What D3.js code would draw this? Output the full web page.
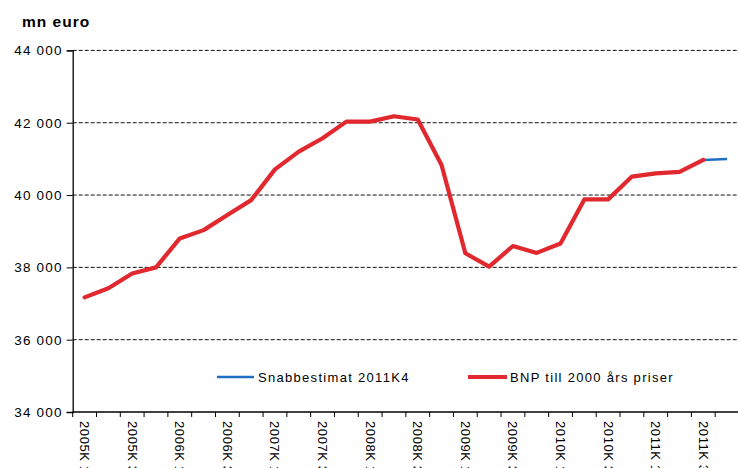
<!DOCTYPE html>
<html>
<head>
<meta charset="utf-8">
<script src="https://cdn.jsdelivr.net/npm/d3@7"></script>
<style>
	body { margin: 0; background: #fff; }
	text { font-family: "Liberation Sans", Arial, sans-serif; fill: #000; }
</style>
</head>
<body>
<svg id="chart" width="738" height="468"></svg>
<script>
// quarters 2005K1 .. 2011K4
var quarters = [];
for (var yr = 2005; yr <= 2011; yr++) {
	for (var k = 1; k <= 4; k++) quarters.push(yr + "K" + k);
}

// BNP till 2000 års priser, mn euro (2005K1 .. 2011K3)
var bnpValues = [37170, 37420, 37830, 38000, 38800, 39030, 39450, 39860,
	40710, 41200, 41570, 42030, 42030, 42180, 42090, 40830,
	38390, 38020, 38590, 38400, 38660, 39880, 39880, 40510,
	40600, 40640, 40970];

// Snabbestimat 2011K4
var snabbQuarters = ["2011K3", "2011K4"];
var snabbValues = [40970, 41000];

var yTicks = [34000, 36000, 38000, 40000, 42000, 44000];

var svg = d3.select("#chart");
var plotLeft = 72.7, plotRight = 739, plotTop = 50.4, plotBottom = 412;

var x = d3.scaleBand().domain(quarters).range([plotLeft, plotRight]);
var y = d3.scaleLinear().domain([34000, 44000]).range([plotBottom, plotTop]);

var fmt = function (v) { return d3.format(",")(v).replace(",", " "); };

// gridlines
svg.append("g")
	.selectAll("line")
	.data(yTicks.filter(function (d) { return d > 34000; }))
	.join("line")
	.attr("x1", plotLeft)
	.attr("x2", 738)
	.attr("y1", function (d) { return y(d); })
	.attr("y2", function (d) { return y(d); })
	.attr("stroke", "#111")
	.attr("stroke-width", 1)
	.attr("stroke-dasharray", "4,2");

// y axis
var yAxis = svg.append("g")
	.attr("transform", "translate(" + plotLeft + ",0)")
	.call(d3.axisLeft(y).tickValues(yTicks).tickFormat(fmt).tickSize(6).tickPadding(4));
yAxis.select(".domain").attr("stroke", "#000").attr("stroke-width", 1.3);
yAxis.selectAll(".tick line").attr("stroke", "#000");
yAxis.selectAll("text")
	.attr("font-size", 13.5)
	.attr("letter-spacing", "1.2px")
	.attr("font-family", "Liberation Sans, Arial, sans-serif")
	.attr("fill", "#000");

// x axis line and ticks at quarter boundaries
svg.append("line")
	.attr("x1", plotLeft).attr("x2", 738)
	.attr("y1", plotBottom).attr("y2", plotBottom)
	.attr("stroke", "#000").attr("stroke-width", 1.3);

svg.append("g")
	.selectAll("line")
	.data(quarters)
	.join("line")
	.attr("x1", function (d) { return x(d); })
	.attr("x2", function (d) { return x(d); })
	.attr("y1", plotBottom)
	.attr("y2", plotBottom + 5)
	.attr("stroke", "#000");

// x labels, every second quarter, rotated
svg.append("g")
	.selectAll("text")
	.data(quarters.filter(function (d, i) { return i % 2 == 0; }))
	.join("text")
	.attr("transform", function (d) {
		return "translate(" + (x(d) + x.bandwidth() / 2 - 4.5) + "," + (plotBottom + 9) + ") rotate(90)";
	})
	.attr("font-size", 13)
	.attr("letter-spacing", "0.6px")
	.text(function (d) { return d.replace("K", "K "); });

// lines
var line = d3.line()
	.x(function (d) { return x(d[0]) + x.bandwidth() / 2; })
	.y(function (d) { return y(d[1]); });

var bnpData = bnpValues.map(function (v, i) { return [quarters[i], v]; });
var snabbData = snabbValues.map(function (v, i) { return [snabbQuarters[i], v]; });

svg.append("path")
	.datum(snabbData)
	.attr("d", line)
	.attr("fill", "none")
	.attr("stroke", "#1f6fc4")
	.attr("stroke-width", 2.5);

svg.append("path")
	.datum(bnpData)
	.attr("d", line)
	.attr("fill", "none")
	.attr("stroke", "#e0282e")
	.attr("stroke-width", 4.2)
	.attr("stroke-linejoin", "round")
	.attr("stroke-linecap", "round");

// title
svg.append("text")
	.attr("x", 22)
	.attr("y", 27)
	.attr("font-size", 15.5)
	.attr("font-weight", "bold")
	.attr("letter-spacing", "1px")
	.text("mn euro");

// legend
var legend = [
	{ name: "Snabbestimat 2011K4", color: "#1f6fc4", width: 2.5, x1: 217, x2: 254, tx: 258 },
	{ name: "BNP till 2000 års priser", color: "#e0282e", width: 4, x1: 468, x2: 507, tx: 510 }
];
var lg = svg.append("g").selectAll("g").data(legend).join("g");
lg.append("line")
	.attr("x1", function (d) { return d.x1; })
	.attr("x2", function (d) { return d.x2; })
	.attr("y1", 377).attr("y2", 377)
	.attr("stroke", function (d) { return d.color; })
	.attr("stroke-width", function (d) { return d.width; });
lg.append("text")
	.attr("x", function (d) { return d.tx; })
	.attr("y", 382)
	.attr("font-size", 13)
	.attr("letter-spacing", "1.3px")
	.text(function (d) { return d.name; });
</script>
</body>
</html>
